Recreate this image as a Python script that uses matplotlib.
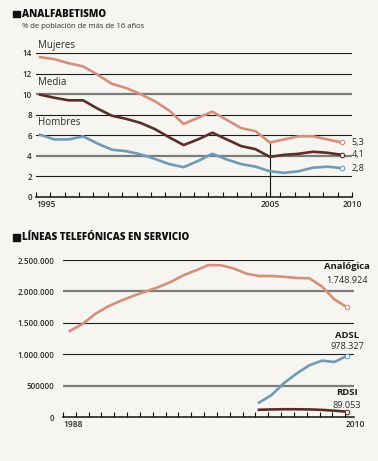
import numpy as np
import matplotlib.pyplot as plt
from matplotlib import ticker
from matplotlib.patches import Rectangle

plt.rcParams['font.family'] = ['Open Sans', 'DejaVu Sans']

BG = '#f6f5f1'
C_MUJ = '#d4907a'
C_MED = '#5b2f28'
C_HOM = '#6f9bb6'
C_TXT = '#2b2b2b'

# --- Analfabetismo (% de población de más de 16 años) ---
periodos = np.arange(22)
mujeres = [13.6, 13.4, 13.0, 12.7, 11.9, 11.0, 10.6, 10.0, 9.3, 8.4, 7.1,
           7.7, 8.3, 7.5, 6.7, 6.4, 5.3, 5.6, 5.9, 5.9, 5.6, 5.3]
media = [9.95, 9.65, 9.4, 9.4, 8.6, 7.9, 7.6, 7.2, 6.6, 5.8, 5.05,
         5.6, 6.25, 5.6, 4.95, 4.65, 3.9, 4.1, 4.2, 4.4, 4.3, 4.1]
hombres = [6.05, 5.6, 5.6, 5.9, 5.2, 4.6, 4.45, 4.15, 3.7, 3.2, 2.9,
           3.5, 4.2, 3.65, 3.2, 2.95, 2.5, 2.35, 2.5, 2.85, 2.95, 2.8]
series_top = [('Mujeres', mujeres, C_MUJ, '5,3'),
              ('Media', media, C_MED, '4,1'),
              ('Hombres', hombres, C_HOM, '2,8')]
idx_2005 = 16
top_ticks = np.arange(0, 15, 2)

# --- Lineas telefonicas en servicio ---
anios = np.arange(1988, 2011)
analogica = [1372000, 1483000, 1642000, 1760000, 1848000, 1928000, 1998000,
             2068000, 2150000, 2257000, 2335000, 2420000, 2416000, 2365000,
             2284000, 2246000, 2246000, 2233000, 2214000, 2210000, 2079000,
             1872000, 1748924]
anios_adsl = np.arange(2003, 2011)
adsl = [232000, 354000, 545000, 696000, 826000, 900000, 879000, 978327]
rdsi = [120000, 125000, 128000, 128000, 125000, 118000, 105000, 89053]
bot_ticks = [0, 500000, 1000000, 1500000, 2000000, 2500000]
bot_labels = ['0', '500000', '1.000.000', '1.500.000', '2.000.000', '2.500.000']

W, H = 378, 461
fig = plt.figure(figsize=(W / 100, H / 100), dpi=100, facecolor=BG)


def px(x0, y0, x1, y1):
    # pixel box (top-left origin) -> figure rect
    return [x0 / W, 1 - y1 / H, (x1 - x0) / W, (y1 - y0) / H]


def base_axes(ax):
    ax.set_facecolor(BG)
    for s in ['top', 'right', 'left']:
        ax.spines[s].set_visible(False)
    ax.spines['bottom'].set_color('#111111')
    ax.spines['bottom'].set_linewidth(1.1)
    ax.tick_params(axis='y', length=0, labelsize=5.8, labelcolor=C_TXT)
    ax.tick_params(axis='x', which='both', direction='in', length=3.5,
                   width=0.8, color='#111111', labelsize=6,
                   labelcolor=C_TXT, pad=2)


# ---------- top chart ----------
ax1 = fig.add_axes(px(36, 53, 352, 197))
base_axes(ax1)
ax1.set_xlim(-0.28, 21.72)
ax1.set_ylim(0, 14)
for v in top_ticks[1:]:
    gray = v in (4, 10)
    ax1.axhline(v, color='#7c7c7c' if gray else '#1c1c1c',
                lw=1.6 if gray else 0.8, zorder=1)
ax1.set_yticks(top_ticks)
ax1.set_yticklabels([str(t) for t in top_ticks], fontweight='semibold')
ax1.tick_params(axis='y', pad=3)
ax1.xaxis.set_minor_locator(ticker.FixedLocator(np.arange(23) - 0.28))
ax1.set_xticks([-0.28, idx_2005, 21.72])
ax1.set_xticklabels(['1995', '2005', '2010'], fontweight='semibold')
ax1.get_xticklabels()[0].set_ha('left')

ax1.vlines(idx_2005, 0, mujeres[idx_2005], color='#111111', lw=0.8, zorder=2)
for name, vals, col, lab in series_top:
    ax1.plot(periodos, vals, color=col, lw=1.9, zorder=3)
    ax1.plot(periodos[-1], vals[-1], 'o', ms=3.2, mfc='white', mec=col,
             mew=0.8, zorder=4)
    ax1.annotate(name, (periodos[0], vals[0]), xytext=(-1.5, 8.5),
                 textcoords='offset points', ha='left', va='center',
                 fontsize=7, color=C_TXT, annotation_clip=False)
    ax1.annotate(lab, (periodos[-1], vals[-1]), xytext=(7, 0),
                 textcoords='offset points', ha='left', va='center',
                 fontsize=6.6, color=C_TXT, annotation_clip=False)

# ---------- bottom chart ----------
ax2 = fig.add_axes(px(63, 260, 354, 417.3))
base_axes(ax2)
ax2.set_xlim(1987.45, 2010.55)
ax2.set_ylim(0, 2500000)
for v in bot_ticks[1:]:
    gray = v in (500000, 2000000)
    ax2.axhline(v, color='#7c7c7c' if gray else '#1c1c1c',
                lw=1.6 if gray else 0.8, zorder=1)
ax2.set_yticks(bot_ticks)
ax2.set_yticklabels(bot_labels, fontweight='semibold')
ax2.tick_params(axis='y', pad=6)
bt = np.linspace(1987.45, 2009.85, 23)
ax2.xaxis.set_minor_locator(ticker.FixedLocator(bt))
ax2.set_xticks([bt[0], bt[-1]])
ax2.set_xticklabels(['1988', '2010'], fontweight='semibold')
for t in ax2.get_xticklabels():
    t.set_ha('left')

ax2.plot(anios, analogica, color=C_MUJ, lw=1.9, zorder=3)
ax2.plot(anios_adsl, adsl, color=C_HOM, lw=1.9, zorder=3)
ax2.plot(anios_adsl, rdsi, color=C_MED, lw=1.9, zorder=3)
ends = [('Analógica', '1.748.924', analogica[-1], C_MUJ, 29, 19),
        ('ADSL', '978.327', adsl[-1], C_HOM, 14.5, 6.3),
        ('RDSI', '89.053', rdsi[-1], C_MED, 14, 4.5)]
for name, val, last, col, dy1, dy2 in ends:
    ax2.plot(anios[-1], last, 'o', ms=3.2, mfc='white', mec=col, mew=0.8,
             zorder=4)
    ax2.annotate(name, (anios[-1], last), xytext=(0, dy1),
                 textcoords='offset points', ha='center', va='center',
                 fontsize=6.8, fontweight='bold', color='#1a1a1a',
                 annotation_clip=False)
    ax2.annotate(val, (anios[-1], last), xytext=(0, dy2),
                 textcoords='offset points', ha='center', va='center',
                 fontsize=6.6, color=C_TXT, annotation_clip=False)

# ---------- titles ----------
fig.patches.append(Rectangle((12.7 / W, 1 - 17.5 / H), 7.3 / W, 6.5 / H,
                             transform=fig.transFigure, color='#111111'))
fig.text(21.5 / W, 1 - 14.5 / H, 'ANALFABETISMO', fontsize=7,
         fontweight='heavy', va='center', ha='left', color='#111111')
fig.text(22 / W, 1 - 26.7 / H, '% de población de más de 16 años',
         fontsize=5.5, va='center', ha='left', color=C_TXT)
fig.patches.append(Rectangle((12.7 / W, 1 - 240.7 / H), 7.3 / W, 6.5 / H,
                             transform=fig.transFigure, color='#111111'))
fig.text(21.5 / W, 1 - 237.5 / H, 'LÍNEAS TELEFÓNICAS EN SERVICIO',
         fontsize=7, fontweight='heavy', va='center', ha='left',
         color='#111111')

fig.savefig('out.png', dpi=100, facecolor=BG)
